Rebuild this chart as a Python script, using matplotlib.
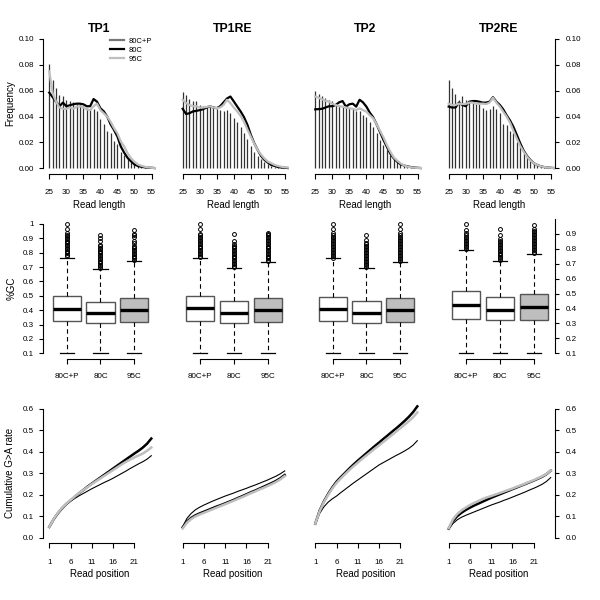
import numpy as np
import matplotlib.pyplot as plt
from matplotlib.lines import Line2D

plt.rcParams['font.family'] = ['Liberation Sans', 'DejaVu Sans']

timepoints = ['TP1', 'TP1RE', 'TP2', 'TP2RE']
conditions = ['80C+P', '80C', '95C']
GRAY = '#BEBEBE'

# ---- read length distributions (lengths 25..56) ----
read_length = list(range(25, 57))

freq_80cp = [
    [0.081, 0.068, 0.062, 0.057, 0.056, 0.053, 0.052, 0.0515, 0.050, 0.0497, 0.048, 0.047, 0.046, 0.046, 0.044, 0.038,
     0.034, 0.029, 0.027, 0.021, 0.0186, 0.013, 0.010, 0.0077, 0.005, 0.004, 0.0023, 0.0013, 0.0008, 0.0005, 0.0003, 0.0002],
    [0.0587, 0.057, 0.0535, 0.052, 0.052, 0.049, 0.048, 0.048, 0.048, 0.048, 0.046, 0.045, 0.044, 0.045, 0.043, 0.039,
     0.036, 0.032, 0.027, 0.0225, 0.0175, 0.013, 0.0096, 0.007, 0.005, 0.0034, 0.002, 0.0013, 0.0008, 0.0005, 0.0003, 0.0002],
    [0.060, 0.0576, 0.056, 0.054, 0.053, 0.0517, 0.050, 0.049, 0.048, 0.0478, 0.0465, 0.0457, 0.0447, 0.044, 0.041, 0.0395,
     0.036, 0.032, 0.027, 0.022, 0.018, 0.0142, 0.0103, 0.0078, 0.0052, 0.0039, 0.0026, 0.0018, 0.0013, 0.0008, 0.0005, 0.0003],
    [0.068, 0.062, 0.0575, 0.053, 0.056, 0.0525, 0.0517, 0.051, 0.050, 0.050, 0.0464, 0.045, 0.0456, 0.048, 0.046, 0.043,
     0.034, 0.0335, 0.029, 0.027, 0.0206, 0.0168, 0.0116, 0.0085, 0.006, 0.0039, 0.0026, 0.0015, 0.001, 0.0006, 0.0004, 0.0002],
]
freq_80c = [
    [0.0585, 0.055, 0.0515, 0.048, 0.0508, 0.048, 0.0487, 0.0495, 0.050, 0.050, 0.0495, 0.048, 0.048, 0.0536, 0.0515, 0.0464,
     0.044, 0.040, 0.034, 0.0296, 0.0245, 0.0168, 0.012, 0.008, 0.0054, 0.003, 0.0018, 0.0012, 0.0008, 0.0005, 0.0004, 0.0002],
    [0.046, 0.042, 0.0426, 0.044, 0.0444, 0.045, 0.0457, 0.047, 0.048, 0.047, 0.0465, 0.048, 0.051, 0.054, 0.0555, 0.0517,
     0.0478, 0.044, 0.0395, 0.0336, 0.0258, 0.0194, 0.0142, 0.0096, 0.0065, 0.0044, 0.0026, 0.0018, 0.001, 0.0006, 0.0004, 0.0002],
    [0.0456, 0.0458, 0.046, 0.047, 0.048, 0.048, 0.049, 0.051, 0.052, 0.0477, 0.0495, 0.050, 0.0477, 0.053, 0.051, 0.0477,
     0.043, 0.0394, 0.034, 0.028, 0.022, 0.0166, 0.0114, 0.0078, 0.0052, 0.0032, 0.0022, 0.0015, 0.001, 0.0006, 0.0004, 0.0002],
    [0.0477, 0.047, 0.047, 0.0508, 0.049, 0.048, 0.0515, 0.052, 0.052, 0.0515, 0.0508, 0.0508, 0.0515, 0.055, 0.0515, 0.049,
     0.0456, 0.041, 0.037, 0.032, 0.0258, 0.0193, 0.0137, 0.0095, 0.0064, 0.0039, 0.0026, 0.0016, 0.001, 0.0006, 0.0004, 0.0002],
]
freq_95c = [
    [0.075, 0.058, 0.0515, 0.047, 0.046, 0.046, 0.047, 0.046, 0.0477, 0.048, 0.047, 0.0456, 0.045, 0.048, 0.050, 0.045,
     0.0425, 0.040, 0.036, 0.031, 0.027, 0.0206, 0.0168, 0.0116, 0.0077, 0.005, 0.003, 0.002, 0.0012, 0.0007, 0.0004, 0.0002],
    [0.053, 0.0504, 0.049, 0.048, 0.048, 0.047, 0.047, 0.0475, 0.048, 0.047, 0.0465, 0.047, 0.049, 0.053, 0.0504, 0.047,
     0.044, 0.0406, 0.036, 0.030, 0.0245, 0.019, 0.0142, 0.0106, 0.0075, 0.0052, 0.0039, 0.0026, 0.0018, 0.0012, 0.0008, 0.0005],
    [0.0554, 0.0546, 0.0533, 0.0523, 0.0515, 0.050, 0.049, 0.048, 0.0477, 0.047, 0.0464, 0.046, 0.045, 0.0464, 0.045, 0.0438,
     0.041, 0.0387, 0.034, 0.029, 0.024, 0.018, 0.0129, 0.0085, 0.006, 0.0039, 0.0023, 0.0013, 0.0008, 0.0005, 0.0003, 0.0002],
    [0.050, 0.049, 0.049, 0.050, 0.0497, 0.0497, 0.0508, 0.0508, 0.050, 0.050, 0.050, 0.0497, 0.0508, 0.0546, 0.0508, 0.0477,
     0.0438, 0.040, 0.0353, 0.029, 0.023, 0.0173, 0.0129, 0.009, 0.006, 0.0039, 0.0026, 0.0016, 0.001, 0.0006, 0.0004, 0.0002],
]

# ---- %GC boxplot summaries ----
gc_q1 = [[0.325, 0.310, 0.320], [0.325, 0.310, 0.320], [0.316, 0.302, 0.310], [0.333, 0.326, 0.326]]
gc_med = [[0.409, 0.380, 0.400], [0.413, 0.380, 0.400], [0.400, 0.373, 0.390], [0.423, 0.393, 0.407]]
gc_q3 = [[0.497, 0.460, 0.486], [0.500, 0.465, 0.487], [0.480, 0.450, 0.470], [0.517, 0.476, 0.494]]
gc_whislo = [[0.1, 0.1, 0.1], [0.1, 0.1, 0.1], [0.1, 0.1, 0.1], [0.1, 0.1, 0.1]]
gc_whishi = [[0.765, 0.687, 0.740], [0.763, 0.695, 0.735], [0.735, 0.673, 0.710], [0.792, 0.718, 0.762]]
gc_outliers = [
    [[0.775, 0.785, 0.795, 0.805, 0.815, 0.825, 0.835, 0.845, 0.855, 0.865, 0.875, 0.885, 0.895, 0.905, 0.915, 0.925, 0.935, 0.965, 1.0],
     [0.695, 0.705, 0.715, 0.725, 0.735, 0.745, 0.755, 0.765, 0.775, 0.785, 0.795, 0.805, 0.815, 0.825, 0.835, 0.845, 0.855, 0.88, 0.905, 0.926],
     [0.75, 0.76, 0.77, 0.78, 0.79, 0.80, 0.81, 0.82, 0.83, 0.84, 0.85, 0.865, 0.88, 0.91, 0.92, 0.93, 0.96]],
    [[0.77, 0.78, 0.79, 0.80, 0.81, 0.82, 0.83, 0.84, 0.85, 0.86, 0.87, 0.88, 0.89, 0.90, 0.91, 0.92, 0.93, 0.965, 1.0],
     [0.70, 0.71, 0.72, 0.73, 0.74, 0.75, 0.76, 0.77, 0.78, 0.79, 0.80, 0.81, 0.82, 0.83, 0.84, 0.85, 0.86, 0.885, 0.93],
     [0.74, 0.75, 0.76, 0.77, 0.78, 0.79, 0.80, 0.81, 0.82, 0.83, 0.84, 0.85, 0.86, 0.87, 0.88, 0.89, 0.90, 0.91, 0.92, 0.93, 0.935]],
    [[0.74, 0.75, 0.76, 0.77, 0.78, 0.79, 0.80, 0.81, 0.82, 0.83, 0.84, 0.85, 0.86, 0.87, 0.88, 0.89, 0.906, 0.933, 0.966],
     [0.68, 0.69, 0.70, 0.71, 0.72, 0.73, 0.74, 0.75, 0.76, 0.77, 0.78, 0.79, 0.80, 0.81, 0.82, 0.83, 0.84, 0.856, 0.892],
     [0.72, 0.73, 0.74, 0.75, 0.76, 0.77, 0.78, 0.79, 0.80, 0.81, 0.82, 0.83, 0.84, 0.85, 0.86, 0.87, 0.88, 0.89, 0.906, 0.933, 0.966]],
    [[0.80, 0.81, 0.82, 0.83, 0.84, 0.85, 0.86, 0.87, 0.88, 0.89, 0.906, 0.926, 0.966],
     [0.725, 0.735, 0.745, 0.755, 0.765, 0.775, 0.785, 0.795, 0.805, 0.815, 0.825, 0.835, 0.845, 0.855, 0.865, 0.89, 0.935],
     [0.77, 0.78, 0.79, 0.80, 0.81, 0.82, 0.83, 0.84, 0.85, 0.86, 0.87, 0.88, 0.89, 0.90, 0.91, 0.92, 0.935, 0.962]],
]

# ---- cumulative G>A rate by read position 1..25 ----
read_position = list(range(1, 26))
cum_80cp = [
    [0.050, 0.085, 0.112, 0.135, 0.155, 0.170, 0.183, 0.195, 0.206, 0.217, 0.228, 0.238, 0.248, 0.258, 0.267, 0.277,
     0.288, 0.299, 0.310, 0.322, 0.333, 0.344, 0.354, 0.366, 0.382],
    [0.051, 0.090, 0.113, 0.130, 0.142, 0.152, 0.161, 0.170, 0.178, 0.186, 0.194, 0.201, 0.208, 0.216, 0.223, 0.230,
     0.238, 0.245, 0.253, 0.261, 0.269, 0.278, 0.287, 0.298, 0.311],
    [0.065, 0.112, 0.143, 0.165, 0.181, 0.194, 0.210, 0.225, 0.240, 0.255, 0.269, 0.283, 0.297, 0.311, 0.325, 0.339,
     0.350, 0.361, 0.372, 0.383, 0.393, 0.404, 0.416, 0.431, 0.452],
    [0.040, 0.066, 0.083, 0.095, 0.104, 0.112, 0.120, 0.128, 0.136, 0.144, 0.152, 0.159, 0.166, 0.174, 0.181, 0.189,
     0.197, 0.205, 0.213, 0.222, 0.230, 0.239, 0.249, 0.262, 0.280],
]
cum_80c = [
    [0.050, 0.085, 0.113, 0.137, 0.157, 0.173, 0.190, 0.207, 0.222, 0.238, 0.252, 0.266, 0.280, 0.294, 0.308, 0.322,
     0.336, 0.350, 0.364, 0.378, 0.392, 0.405, 0.420, 0.438, 0.462],
    [0.048, 0.075, 0.092, 0.104, 0.113, 0.121, 0.129, 0.137, 0.145, 0.152, 0.160, 0.168, 0.176, 0.185, 0.193, 0.202,
     0.211, 0.219, 0.228, 0.237, 0.246, 0.255, 0.265, 0.277, 0.292],
    [0.065, 0.125, 0.168, 0.203, 0.234, 0.261, 0.282, 0.302, 0.322, 0.341, 0.359, 0.376, 0.393, 0.410, 0.427, 0.443,
     0.460, 0.476, 0.493, 0.509, 0.526, 0.544, 0.563, 0.585, 0.612],
    [0.042, 0.078, 0.100, 0.116, 0.129, 0.140, 0.150, 0.159, 0.168, 0.177, 0.186, 0.194, 0.202, 0.210, 0.218, 0.226,
     0.234, 0.242, 0.250, 0.258, 0.266, 0.275, 0.284, 0.296, 0.312],
]
cum_95c = [
    [0.050, 0.086, 0.115, 0.139, 0.158, 0.175, 0.192, 0.208, 0.222, 0.236, 0.250, 0.263, 0.276, 0.289, 0.302, 0.315,
     0.328, 0.341, 0.353, 0.364, 0.374, 0.383, 0.392, 0.405, 0.420],
    [0.043, 0.070, 0.087, 0.099, 0.108, 0.116, 0.124, 0.132, 0.140, 0.148, 0.156, 0.164, 0.172, 0.181, 0.189, 0.198,
     0.207, 0.215, 0.224, 0.232, 0.241, 0.250, 0.260, 0.272, 0.287],
    [0.065, 0.122, 0.165, 0.199, 0.229, 0.255, 0.276, 0.296, 0.315, 0.333, 0.350, 0.367, 0.383, 0.399, 0.415, 0.430,
     0.446, 0.462, 0.478, 0.494, 0.510, 0.526, 0.543, 0.561, 0.584],
    [0.044, 0.085, 0.110, 0.127, 0.140, 0.152, 0.162, 0.171, 0.180, 0.188, 0.194, 0.201, 0.208, 0.215, 0.222, 0.229,
     0.237, 0.244, 0.252, 0.260, 0.268, 0.277, 0.286, 0.297, 0.312],
]

# ---- layout (pixels of a 600x600 figure) ----
fig = plt.figure(figsize=(6, 6), dpi=100)
col_left = [43.3, 176.7, 309.3, 442.7]
col_w = 112.5
rows = [(33.8, 173.5), (218.8, 358.5), (403.8, 542.8)]
TICK_FS = 5.8


def make_ax(r, c):
    top, bot = rows[r]
    return fig.add_axes([col_left[c] / 600, 1 - bot / 600, col_w / 600, (bot - top) / 600])


def r_style(ax, c, xpad=7.2):
    for s in ax.spines.values():
        s.set_visible(False)
        s.set_linewidth(0.8)
    ax.spines['bottom'].set_visible(True)
    ax.tick_params(axis='x', direction='out', length=3.6, width=0.8, labelsize=TICK_FS, pad=xpad)
    if c == 0:
        ax.spines['left'].set_visible(True)
        ax.tick_params(axis='y', direction='out', length=3.2, width=0.8, labelsize=TICK_FS, pad=3.5)
    elif c == 3:
        ax.spines['right'].set_visible(True)
        ax.yaxis.tick_right()
        ax.tick_params(axis='y', direction='out', length=3.2, width=0.8, labelsize=TICK_FS, pad=4.5)
    else:
        ax.tick_params(axis='y', left=False, labelleft=False)
    ax.patch.set_visible(False)


for c, tp in enumerate(timepoints):
    # top row: read length
    ax = make_ax(0, c)
    ax.vlines(read_length, 0, freq_80cp[c], color='#333333', lw=0.9)
    ax.plot(read_length, freq_80c[c], color='black', lw=1.6)
    ax.plot(read_length, freq_95c[c], color=GRAY, lw=1.6)
    ax.set_xlim(23.25, 56.25)
    ax.set_ylim(-0.004, 0.104)
    r_style(ax, c)
    ax.spines['bottom'].set_bounds(25, 55)
    ax.set_xticks([25, 30, 35, 40, 45, 50, 55])
    ax.set_yticks([0, 0.02, 0.04, 0.06, 0.08, 0.10])
    ax.set_yticklabels(['0.00', '0.02', '0.04', '0.06', '0.08', '0.10'])
    ax.spines['left'].set_bounds(0, 0.1)
    ax.spines['right'].set_bounds(0, 0.1)
    if c == 0:
        handles = [Line2D([], [], color='#777777', lw=1.6),
                   Line2D([], [], color='black', lw=1.6),
                   Line2D([], [], color=GRAY, lw=1.6)]
        ax.legend(handles, conditions, loc='upper left', bbox_to_anchor=(0.59, 0.975),
                  frameon=False, fontsize=5.5, handlelength=1.9, handletextpad=0.6,
                  labelspacing=0.25, borderpad=0, borderaxespad=0)
    xc = (col_left[c] + col_w / 2) / 600
    fig.text(xc, 1 - 29 / 600, tp, ha='center', va='center', fontsize=8.8, fontweight='bold')
    fig.text(xc, 1 - 205 / 600, 'Read length', ha='center', va='center', fontsize=7)

    # middle row: %GC boxplots
    ax = make_ax(1, c)
    stats = []
    for k in range(3):
        stats.append(dict(q1=gc_q1[c][k], med=gc_med[c][k], q3=gc_q3[c][k],
                          whislo=gc_whislo[c][k], whishi=gc_whishi[c][k], fliers=gc_outliers[c][k]))
    bp = ax.bxp(stats, positions=[1, 2, 3], widths=0.83, capwidths=0.42, patch_artist=True,
                manage_ticks=False,
                boxprops=dict(edgecolor='#555555', linewidth=1.0),
                medianprops=dict(color='black', linewidth=2.4, solid_capstyle='butt'),
                whiskerprops=dict(color='black', linewidth=0.8, linestyle=(0, (4, 3))),
                capprops=dict(color='black', linewidth=0.9),
                flierprops=dict(marker='o', markerfacecolor='none', markeredgecolor='black',
                                markersize=2.8, markeredgewidth=0.7))
    for patch, fc in zip(bp['boxes'], ['white', 'white', GRAY]):
        patch.set_facecolor(fc)
    lo = min(gc_whislo[c])
    hi = max(max(v) for v in gc_outliers[c])
    pad = 0.04 * (hi - lo)
    ax.set_xlim(0.308, 3.636)
    ax.set_ylim(lo - pad, hi + pad)
    r_style(ax, c)
    ax.spines['bottom'].set_bounds(1, 3)
    ax.set_xticks([1, 2, 3])
    ax.set_xticklabels(conditions)
    yt = [0.1, 0.2, 0.3, 0.4, 0.5, 0.6, 0.7, 0.8, 0.9, 1.0]
    yl = ['0.1', '0.2', '0.3', '0.4', '0.5', '0.6', '0.7', '0.8', '0.9', '1']
    keep = [i for i, v in enumerate(yt) if v <= hi + 1e-9]
    ax.set_yticks([yt[i] for i in keep])
    ax.set_yticklabels([yl[i] for i in keep])
    ax.spines['left'].set_bounds(0.1, 1.0)
    ax.spines['right'].set_bounds(0.1, hi + pad)

    # bottom row: cumulative G>A
    ax = make_ax(2, c)
    ax.plot(read_position, cum_80cp[c], color='black', lw=0.8)
    ax.plot(read_position, cum_80c[c], color='black', lw=1.8)
    ax.plot(read_position, cum_95c[c], color=GRAY, lw=1.8)
    ax.set_xlim(-0.412, 26.06)
    ax.set_ylim(-0.024, 0.624)
    r_style(ax, c, xpad=8)
    ax.spines['bottom'].set_bounds(1, 21)
    ax.set_xticks([1, 6, 11, 16, 21])
    ax.set_yticks([0, 0.1, 0.2, 0.3, 0.4, 0.5, 0.6])
    ax.set_yticklabels(['0.0', '0.1', '0.2', '0.3', '0.4', '0.5', '0.6'])
    ax.spines['left'].set_bounds(0, 0.6)
    ax.spines['right'].set_bounds(0, 0.6)
    fig.text(xc, 1 - 574 / 600, 'Read position', ha='center', va='center', fontsize=7)

fig.text(10 / 600, 1 - 103.6 / 600, 'Frequency', rotation=90, ha='center', va='center', fontsize=7)
fig.text(12 / 600, 1 - 288.6 / 600, '%GC', rotation=90, ha='center', va='center', fontsize=7)
fig.text(10 / 600, 1 - 473.3 / 600, 'Cumulative G>A rate', rotation=90, ha='center', va='center', fontsize=7)

fig.savefig('out.png', dpi=100, facecolor='white')
